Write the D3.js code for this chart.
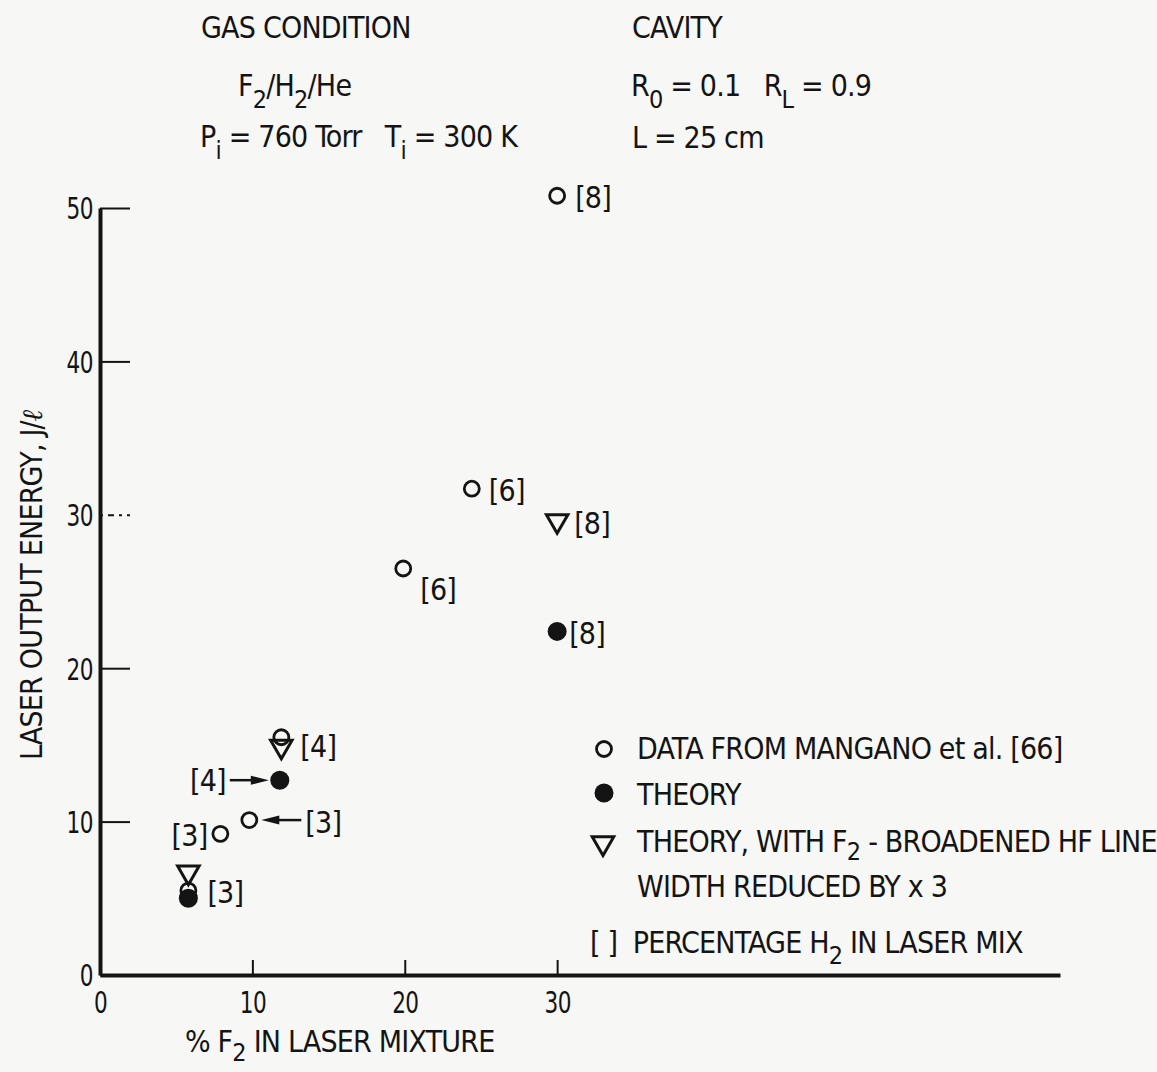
<!DOCTYPE html>
<html>
<head>
<meta charset="utf-8">
<script src="https://cdn.jsdelivr.net/npm/d3@7"></script>
<style>
  html, body { margin: 0; padding: 0; background: #f7f7f5; }
  svg { display: block; }
  text {
    font-family: "Liberation Sans Narrow", "DejaVu Sans Condensed", "Roboto Condensed", sans-serif;
    font-stretch: condensed;
    letter-spacing: -0.8px;
    white-space: pre;
    fill: #141414;
  }
</style>
</head>
<body>
<div id="chart"></div>
<script>
// % F2 vs laser output energy (J/l), labels are % H2 in the mix
const f2Ticks = [0, 10, 20, 30];
const energyTicks = [0, 10, 20, 30, 40, 50];

const mangano = [
  { f2: 30.0, energy: 50.8, h2: 8 },
  { f2: 24.4, energy: 31.7, h2: 6 },
  { f2: 19.9, energy: 26.5, h2: 6 },
  { f2: 9.8, energy: 10.1, h2: 3 },
  { f2: 7.9, energy: 9.2, h2: 3 },
  { f2: 11.9, energy: 15.5, h2: 4 },
  { f2: 5.8, energy: 5.5, h2: 3 }
];

const theory = [
  { f2: 30.0, energy: 22.4, h2: 8 },
  { f2: 11.8, energy: 12.7, h2: 4 },
  { f2: 5.8, energy: 5.0, h2: 3 }
];

const theoryReduced = [
  { f2: 30.0, energy: 29.6, h2: 8 },
  { f2: 11.9, energy: 14.9, h2: 4 },
  { f2: 5.8, energy: 6.7, h2: 3 }
];

// where each [h2] tag sits relative to its marker
const tagLayout = [
  { set: "mangano", i: 0, dx: 18, dy: 12 },
  { set: "mangano", i: 1, dx: 17, dy: 12 },
  { set: "mangano", i: 2, dx: 17, dy: 32 },
  { set: "reduced", i: 0, dx: 17, dy: 13 },
  { set: "theory", i: 0, dx: 12, dy: 13 },
  { set: "reduced", i: 1, dx: 19, dy: 11 },
  { set: "theory", i: 1, dx: -54, dy: 11, anchor: "end", arrow: [-50, -11] },
  { set: "mangano", i: 4, dx: -13, dy: 12, anchor: "end" },
  { set: "mangano", i: 3, dx: 56, dy: 13, arrow: [52, 12] },
  { set: "mangano", i: 6, dx: 19, dy: 12 }
];

const sets = { mangano: mangano, theory: theory, reduced: theoryReduced };

const W = 1157, H = 1072;
const ink = "#141414";
const svg = d3.select("#chart").append("svg")
  .attr("width", W).attr("height", H);

const x = d3.scaleLinear().domain([0, 63]).range([100, 1060]);
const y = d3.scaleLinear().domain([0, 50]).range([975, 208]);

// text with lowered subscripts: parts = [["F"], ["2", true], ["/H"] ...]
function rich(g, px, py, parts, drop = 11) {
  const t = g.append("text").attr("x", px).attr("y", py);
  let low = false;
  parts.forEach(([s, isSub]) => {
    const sp = t.append("tspan").text(s);
    if (isSub && !low) { sp.attr("dy", drop).attr("font-size", 25); low = true; }
    else if (isSub) { sp.attr("font-size", 25); }
    else if (low) { sp.attr("dy", -drop); low = false; }
  });
  return t;
}

// header text
const head = svg.append("g").attr("font-size", 30);
head.append("text").attr("x", 201).attr("y", 38).text("GAS CONDITION");
head.append("text").attr("x", 632).attr("y", 38).text("CAVITY");
rich(head, 238, 96, [["F"], ["2", true], ["/H"], ["2", true], ["/He"]], 12);
rich(head, 200, 147, [["P"], ["i", true], [" = 760 Torr   T"], ["i", true], [" = 300 K"]], 12);
rich(head, 631, 96, [["R"], ["0", true], [" = 0.1   R"], ["L", true], [" = 0.9"]], 12);
head.append("text").attr("x", 632).attr("y", 148).text("L = 25 cm");

// axes
const yAxis = svg.append("g")
  .attr("transform", `translate(${x(0)},0)`)
  .call(d3.axisLeft(y).tickValues(energyTicks).tickSize(-30).tickSizeOuter(0).tickPadding(9));
yAxis.select(".domain").attr("stroke", ink).attr("stroke-width", 4);
yAxis.selectAll(".tick line").attr("stroke", ink).attr("stroke-width", 2)
  .attr("stroke-dasharray", d => d === 30 ? "3,5,6,5" : null);
yAxis.selectAll(".tick text").attr("font-size", 30).attr("fill", ink).attr("dy", "0.36em")
  .attr("transform", "scale(0.8,1)");

const xAxis = svg.append("g")
  .attr("transform", `translate(0,${y(0)})`)
  .call(d3.axisBottom(x).tickValues(f2Ticks).tickSize(-15).tickSizeOuter(0).tickPadding(10).tickFormat(d3.format("d")));
xAxis.select(".domain").attr("stroke", ink).attr("stroke-width", 4);
xAxis.selectAll(".tick line").attr("stroke", ink).attr("stroke-width", 2)
  .attr("display", d => d === 0 ? "none" : null);
xAxis.selectAll(".tick text").attr("font-size", 30).attr("fill", ink).attr("y", 17).attr("dy", "0.71em")
  .attr("transform", "scale(0.8,1)");

// axis titles
rich(svg.append("g").attr("font-size", 30), 185, 1052, [["% F"], ["2", true], [" IN LASER MIXTURE"]], 9);

const yt = svg.append("text")
  .attr("transform", "translate(42,585) rotate(-90)")
  .attr("text-anchor", "middle").attr("font-size", 30);
yt.append("tspan").text("LASER OUTPUT ENERGY, J/");
yt.append("tspan").attr("font-style", "italic").attr("font-weight", "bold")
  .attr("font-family", "DejaVu Serif").attr("font-size", 28).text("ℓ");

// markers
const tri = d3.symbol().type(d3.symbolTriangle).size(200);

svg.append("g").selectAll("path")
  .data(theoryReduced).join("path")
  .attr("d", tri)
  .attr("transform", d => `translate(${x(d.f2)},${y(d.energy)}) rotate(180)`)
  .attr("fill", "none").attr("stroke", ink).attr("stroke-width", 3);

svg.append("g").selectAll("circle")
  .data(mangano).join("circle")
  .attr("cx", d => x(d.f2)).attr("cy", d => y(d.energy)).attr("r", 7.5)
  .attr("fill", "none").attr("stroke", ink).attr("stroke-width", 2.8);

svg.append("g").selectAll("circle")
  .data(theory).join("circle")
  .attr("cx", d => x(d.f2)).attr("cy", d => y(d.energy)).attr("r", 9.5)
  .attr("fill", ink);

// [h2] tags
const tags = svg.append("g").attr("font-size", 30);
tagLayout.forEach(l => {
  const d = sets[l.set][l.i];
  const px = x(d.f2), py = y(d.energy);
  tags.append("text")
    .attr("x", px + l.dx).attr("y", py + l.dy)
    .attr("text-anchor", l.anchor || "start")
    .text(`[${d.h2}]`);
  if (l.arrow) {
    const [a, b] = l.arrow;
    const dir = Math.sign(b - a);
    tags.append("line")
      .attr("x1", px + a).attr("x2", px + b - dir * 12)
      .attr("y1", py).attr("y2", py)
      .attr("stroke", ink).attr("stroke-width", 2.5);
    tags.append("path")
      .attr("d", `M${px + b},${py} L${px + b - dir * 18},${py - 4.5} L${px + b - dir * 18},${py + 4.5} Z`)
      .attr("fill", ink);
  }
});

// legend
const leg = svg.append("g").attr("font-size", 30);
leg.append("circle").attr("cx", 604).attr("cy", 749).attr("r", 7.5)
  .attr("fill", "none").attr("stroke", ink).attr("stroke-width", 2.8);
leg.append("text").attr("x", 637).attr("y", 759).text("DATA FROM MANGANO et al. [66]");

leg.append("circle").attr("cx", 604).attr("cy", 793).attr("r", 9.5).attr("fill", ink);
leg.append("text").attr("x", 637).attr("y", 805).text("THEORY");

leg.append("path").attr("d", tri).attr("transform", "translate(603,843) rotate(180)")
  .attr("fill", "none").attr("stroke", ink).attr("stroke-width", 3);
rich(leg, 637, 852, [["THEORY, WITH F"], ["2", true], [" - BROADENED HF LINE"]], 8);
leg.append("text").attr("x", 637).attr("y", 897).text("WIDTH REDUCED BY x 3");

rich(leg, 590, 953, [["[ ]  PERCENTAGE H"], ["2", true], [" IN LASER MIX"]], 11);
</script>
</body>
</html>
